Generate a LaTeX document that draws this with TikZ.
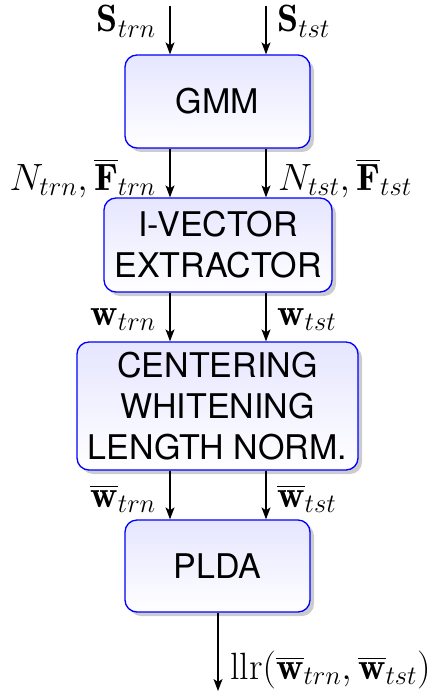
\RequirePackage{fix-cm}
\documentclass[tikz,border=0pt]{standalone}
\usepackage{amsmath}
\usepackage{exscale}
\usepackage{fontspec}
\setsansfont{TeX Gyre Heros}
\usetikzlibrary{shadows,arrows.meta}
\begin{document}
\begin{tikzpicture}[x=1pt,y=1pt,
  box/.style={draw=blue, line width=1.3pt, rounded corners=12pt,
    top color=blue!10, bottom color=white,
    drop shadow={shadow xshift=4pt, shadow yshift=-4pt, fill=black!20, opacity=1},
    font=\sffamily\fontsize{34}{41}\selectfont, align=center, inner sep=0pt},
  lbl/.style={font=\fontsize{38}{45}\selectfont, inner sep=0pt},
  arr/.style={line width=1.1pt, -{Stealth[length=12pt,width=9pt,inset=3pt]}}]
\useasboundingbox (0,0) rectangle (434,-695);

\node[box, minimum width=185pt, minimum height=93pt] (gmm) at (217.5,-101.5) {GMM};
\node[box, minimum width=228pt, minimum height=94pt] (ivec) at (218,-245) {I-VECTOR\\EXTRACTOR};
\node[box, minimum width=281pt, minimum height=128pt] (cent) at (217.5,-406) {CENTERING\\WHITENING\\LENGTH NORM.};
\node[box, minimum width=185pt, minimum height=92pt] (plda) at (217.5,-566) {PLDA};

\coordinate (inL) at (170,-6);
\coordinate (inR) at (266,-6);
\coordinate (out) at (218,-691);

\draw[arr] (inL) -- (inL |- gmm.north);
\draw[arr] (inR) -- (inR |- gmm.north);
\draw[arr] (inL |- gmm.south) -- (inL |- ivec.north);
\draw[arr] (inR |- gmm.south) -- (inR |- ivec.north);
\draw[arr] (inL |- ivec.south) -- (inL |- cent.north);
\draw[arr] (inR |- ivec.south) -- (inR |- cent.north);
\draw[arr] (inL |- cent.south) -- (inL |- plda.north);
\draw[arr] (inR |- cent.south) -- (inR |- plda.north);
\draw[arr] (out |- plda.south) -- (out);

\node[lbl, anchor=base east] (l1) at (156,-32) {$\mathbf{S}_{trn}$};
\node[lbl, anchor=base west] (r1) at (277,-32) {$\mathbf{S}_{tst}$};
\node[lbl, anchor=base east] (l2) at (156,-190) {$N_{trn},\overline{\mathbf{F}}_{trn}$};
\node[lbl, anchor=base west] (r2) at (278,-190) {$N_{tst},\overline{\mathbf{F}}_{tst}$};
\node[lbl, anchor=base east] (l3) at (156,-325) {$\mathbf{w}_{trn}$};
\node[lbl, anchor=base west] (r3) at (277,-325) {$\mathbf{w}_{tst}$};
\node[lbl, anchor=base east] (l4) at (156,-507) {$\overline{\mathbf{w}}_{trn}$};
\node[lbl, anchor=base west] (r4) at (277,-507) {$\overline{\mathbf{w}}_{tst}$};
\node[lbl, anchor=base west] (o1) at (230,-679) {$\mathrm{llr}(\overline{\mathbf{w}}_{trn},\overline{\mathbf{w}}_{tst})$};
\end{tikzpicture}
\end{document}
